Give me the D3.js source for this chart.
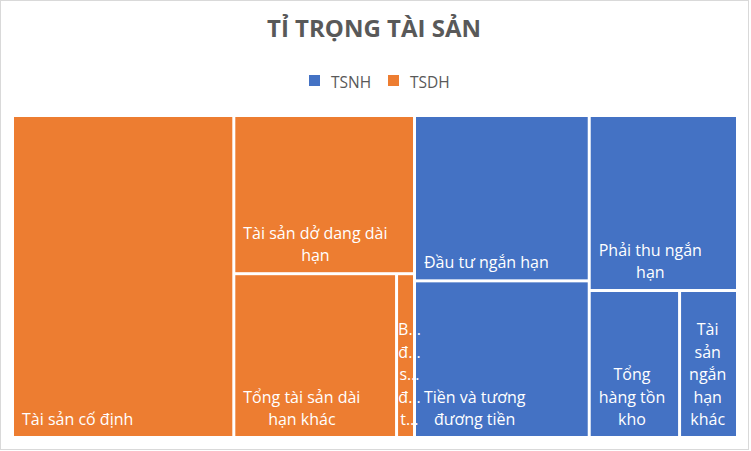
<!DOCTYPE html>
<html>
<head>
<meta charset="utf-8">
<script src="https://cdn.jsdelivr.net/npm/d3@7"></script>
<style>
  body { margin: 0; background: #fff; }
  text { font-family: "Open Sans", sans-serif; }
</style>
</head>
<body>
<div id="chart"></div>
<script>
// data (relative sizes)
var groups = ["TSNH", "TSDH"];
var groupColors = ["#4472C4", "#ED7D31"];
var tsdhNames = ["Tài sản cố định", "Tài sản dở dang dài hạn", "Tổng tài sản dài hạn khác", "Bất động sản đầu tư"];
var tsdhValues = [70.3, 28.2, 26.3, 2.9];
var tsnhNames = ["Đầu tư ngắn hạn", "Tiền và tương đương tiền", "Phải thu ngắn hạn", "Tổng hàng tồn kho", "Tài sản ngắn hạn khác"];
var tsnhValues = [28.5, 27.0, 25.6, 13.1, 8.4];

var W = 751, H = 451;
var margin = {top: 117, right: 15, bottom: 15, left: 14};
var width = W - margin.left - margin.right;
var height = H - margin.top - margin.bottom;
var lineH = 22.5;

var color = d3.scaleOrdinal().domain(groups).range(groupColors);

var svg = d3.select("#chart").append("svg")
    .attr("width", W)
    .attr("height", H);

// chart border
svg.append("rect")
    .attr("x", 0.5).attr("y", 0.5)
    .attr("width", W - 3).attr("height", H - 2)
    .attr("fill", "#fff")
    .attr("stroke", "#d9d9d9");

// title
svg.append("text")
    .attr("x", 374).attr("y", 37)
    .attr("text-anchor", "middle")
    .style("font-size", "24px")
    .style("font-weight", "bold")
    .style("fill", "#595959")
    .text("TỈ TRỌNG TÀI SẢN");

// legend
var legend = svg.append("g").attr("transform", "translate(309,75)");
var lx = [0, 79];
groups.forEach(function(g, i) {
    var item = legend.append("g").attr("transform", "translate(" + lx[i] + ",0)");
    item.append("rect").attr("width", 11).attr("height", 11).attr("fill", color(g));
    item.append("text")
        .attr("x", 22).attr("y", 12.5)
        .style("font-size", "15.5px")
        .style("fill", "#595959")
        .text(g);
});

var data = {
    name: "root",
    children: [
        {name: "TSDH", children: tsdhNames.map(function(n, i) { return {name: n, value: tsdhValues[i]}; })},
        {name: "TSNH", children: tsnhNames.map(function(n, i) { return {name: n, value: tsnhValues[i]}; })}
    ]
};

var root = d3.hierarchy(data)
    .sum(function(d) { return d.value || 0; })
    .sort(function(a, b) { return b.value - a.value; });

d3.treemap()
    .tile(d3.treemapSquarify.ratio(1))
    .size([width, height])
    .paddingInner(3)(root);

var g = svg.append("g").attr("transform", "translate(" + margin.left + "," + margin.top + ")");

g.selectAll("rect.tile")
    .data(root.leaves())
    .enter().append("rect")
    .attr("class", "tile")
    .attr("x", function(d) { return d.x0; })
    .attr("y", function(d) { return d.y0; })
    .attr("width", function(d) { return d.x1 - d.x0; })
    .attr("height", function(d) { return d.y1 - d.y0; })
    .attr("fill", function(d) { return color(d.parent.data.name); });

// measuring helper
var meas = svg.append("text").style("font-size", "16px").attr("visibility", "hidden");
var textW = function(s) { meas.text(s); return meas.node().getComputedTextLength(); };

// wrap words into lines, cut words that are still too wide
var wrap = function(label, maxW, cutW) {
    var words = label.split(" ");
    var lines = [];
    var cur = "";
    words.forEach(function(w) {
        var t = cur ? cur + " " + w : w;
        if (cur && textW(t) > maxW) { lines.push(cur); cur = w; }
        else cur = t;
    });
    if (cur) lines.push(cur);
    return lines.map(function(l) {
        if (textW(l) <= cutW) return l;
        var s = l;
        while (s.length > 1 && textW(s + "…") > cutW) s = s.slice(0, -1);
        return s + "…";
    });
};

// labels drawn on top of all tiles
g.selectAll("text.label")
    .data(root.leaves())
    .enter().append("text")
    .attr("class", "label")
    .attr("text-anchor", "middle")
    .style("font-size", "16px")
    .style("fill", "#fff")
    .each(function(d) {
        var w = d.x1 - d.x0;
        var pad = w > 40 ? 8 : 0;
        var lines = wrap(d.data.name, w - 2 * pad - 3, w - pad);
        var cx = d.x0 + pad + d3.max(lines, textW) / 2;
        d3.select(this).selectAll("tspan")
            .data(lines)
            .enter().append("tspan")
            .attr("x", cx)
            .attr("y", function(l, i) { return d.y1 - 11 - (lines.length - 1 - i) * lineH; })
            .text(function(l) { return l; });
    });
meas.remove();
</script>
</body>
</html>
